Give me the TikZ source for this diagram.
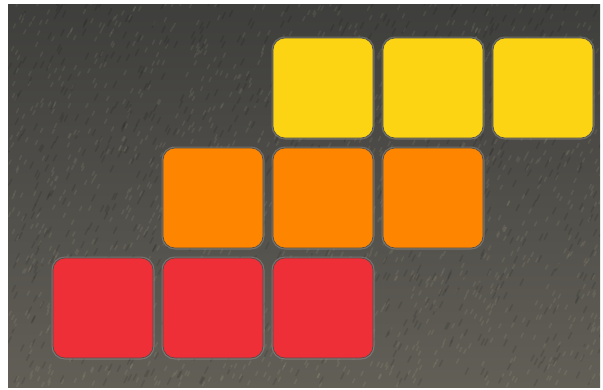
\documentclass[tikz,border=0pt]{standalone}
\usepackage{xcolor}
\usetikzlibrary{positioning}
\definecolor{tileyellow}{HTML}{FDD414}
\definecolor{tileorange}{HTML}{FE8500}
\definecolor{tilered}{HTML}{EF2F38}
\definecolor{slatetop}{HTML}{3E3E3C}
\definecolor{slatebottom}{HTML}{625F57}
\tikzset{
  tile/.style={draw=black!70, line width=0.6pt, rounded corners=12pt,
    minimum size=100pt, inner sep=0pt,
    preaction={draw=gray!70, line width=3pt, opacity=0.4}},
  grain/.style={line width=1.6pt, line cap=round, opacity=0.07}
}

\begin{document}
\begin{tikzpicture}[x=1pt,y=-1pt]
    \useasboundingbox (0,0) rectangle (603,389);
    % slate background
    \shade[top color=slatetop, bottom color=slatebottom] (8,4) rectangle (600,387);
    \pgfmathsetseed{42}
    \begin{scope}
      \clip (8,4) rectangle (600,387);
      \foreach \k in {1,...,1400} {
        \pgfmathsetmacro\px{8+592*rnd}
        \pgfmathsetmacro\py{4+383*rnd}
        \draw[grain, white!80!yellow] (\px,\py) -- ++(2,-4);
      }
      \foreach \k in {1,...,900} {
        \pgfmathsetmacro\px{8+592*rnd}
        \pgfmathsetmacro\py{4+383*rnd}
        \draw[grain, black, opacity=0.1] (\px,\py) -- ++(3,-6);
      }
    \end{scope}
    % tiles
    \foreach \i in {0,1,2} {
      \node[tile, fill=tileyellow] (yellow\i) at (323+110*\i,88) {};
      \node[tile, fill=tileorange] (orange\i) at (213+110*\i,198) {};
      \node[tile, fill=tilered] (red\i) at (103+110*\i,308) {};
    }
  \end{tikzpicture}
\end{document}
